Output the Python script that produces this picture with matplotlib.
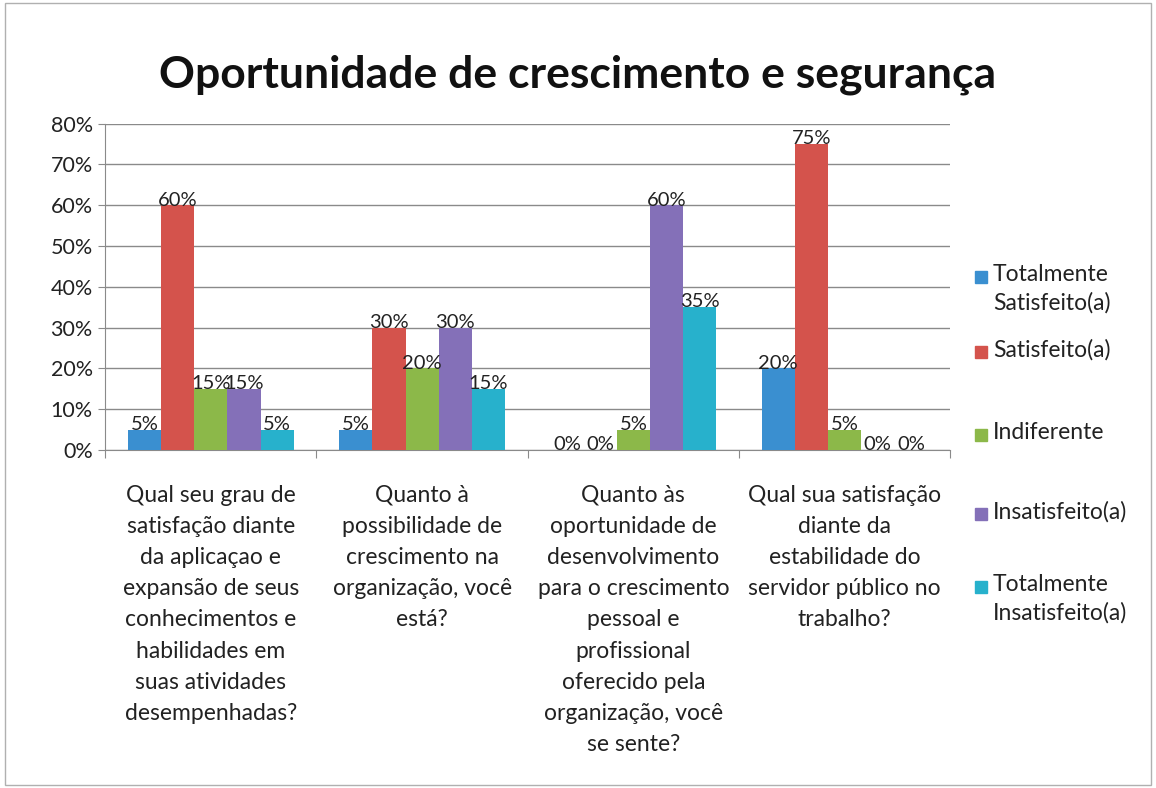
import numpy as np
import matplotlib.pyplot as plt
from matplotlib.patches import Rectangle

plt.rcParams['font.family'] = ['Lato', 'DejaVu Sans']

# data
categories = [
    "Qual seu grau de\nsatisfação diante\nda aplicaçao e\nexpansão de seus\nconhecimentos e\nhabilidades em\nsuas atividades\ndesempenhadas?",
    "Quanto à\npossibilidade de\ncrescimento na\norganização, você\nestá?",
    "Quanto às\noportunidade de\ndesenvolvimento\npara o crescimento\npessoal e\nprofissional\noferecido pela\norganização, você\nse sente?",
    "Qual sua satisfação\ndiante da\nestabilidade do\nservidor público no\ntrabalho?",
]
series_names = ["Totalmente\nSatisfeito(a)", "Satisfeito(a)", "Indiferente",
                "Insatisfeito(a)", "Totalmente\nInsatisfeito(a)"]
totalmente_satisfeito = [5, 5, 0, 20]
satisfeito = [60, 30, 0, 75]
indiferente = [15, 20, 5, 5]
insatisfeito = [15, 30, 60, 0]
totalmente_insatisfeito = [5, 15, 35, 0]
colors = ["#3a8fd0", "#d4534c", "#8cb849", "#8470b8", "#27b1cc"]

series = [totalmente_satisfeito, satisfeito, indiferente, insatisfeito, totalmente_insatisfeito]

W, H = 1156, 788
fig = plt.figure(figsize=(W / 100, H / 100), dpi=100)
fig.patches.append(Rectangle((0.004, 0.004), 0.992, 0.992, transform=fig.transFigure,
                             fill=False, edgecolor="#b0b0b0", linewidth=1))
ax = fig.add_axes([0.091, 0.429, 0.731, 0.414])

x = np.arange(len(categories))
w = 0.157
for i, (vals, c) in enumerate(zip(series, colors)):
    pos = x + (i - 2) * w
    bars = ax.bar(pos, vals, width=w, color=c, zorder=3)
    for b, v in zip(bars, vals):
        ax.text(b.get_x() + b.get_width() / 2, v - 0.8, f"{v}%", ha="center", va="bottom",
                fontsize=14.5, color="#222222", zorder=4)

ax.set_xlim(-0.5, len(categories) - 0.5)
ax.set_ylim(0, 80)
ax.set_yticks(range(0, 81, 10))
ax.set_yticklabels([f"{v}%" for v in range(0, 81, 10)], fontsize=15.5, color="#222222")
ax.yaxis.grid(True, color="#8a8a8a", linewidth=1, zorder=0)
ax.set_xticks(np.arange(-0.5, len(categories), 1.0))
ax.set_xticklabels([])
ax.tick_params(axis="x", length=6, color="#8a8a8a")
ax.tick_params(axis="y", length=5, color="#8a8a8a", pad=4)
for s in ["top", "right"]:
    ax.spines[s].set_visible(False)
ax.spines["left"].set_color("#8a8a8a")
ax.spines["bottom"].set_color("#8a8a8a")

for xi, lab in zip(x, categories):
    ax.text(xi, -8.5, lab, ha="center", va="top", fontsize=16.5, linespacing=1.6,
            color="#222222")

fig.text(0.5, 0.905, "Oportunidade de crescimento e segurança", ha="center", va="center",
         fontsize=32, fontweight="bold", color="#111111")

# legend drawn by hand to follow the spread-out Excel layout
leg_y = [277, 352, 435, 514, 587]
for name, c, yy in zip(series_names, colors, leg_y):
    fig.patches.append(Rectangle((975 / W, 1 - (yy + 6) / H), 12 / W, 12 / H,
                                 transform=fig.transFigure, color=c))
    fig.text(993 / W, 1 - (yy - 13) / H, name, ha="left", va="top", fontsize=16.5,
             linespacing=1.4, color="#222222")

fig.savefig("out.png", dpi=100)
